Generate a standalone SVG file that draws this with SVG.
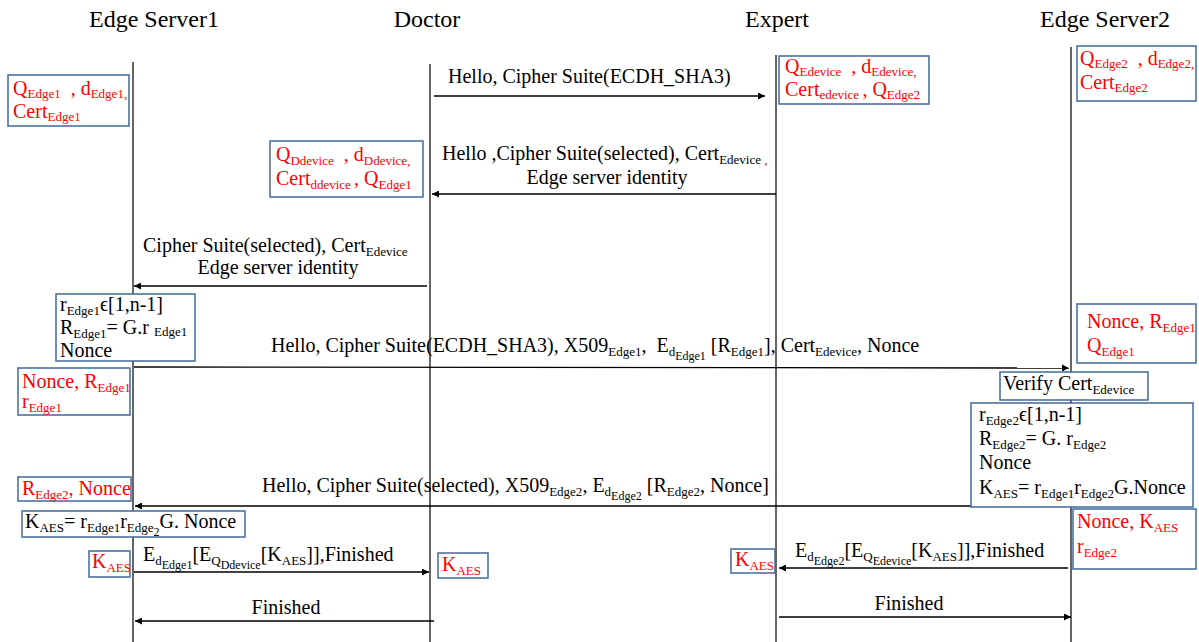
<svg xmlns="http://www.w3.org/2000/svg" width="1199" height="642" viewBox="0 0 1199 642">
  <style>
    text { font-family: "Liberation Serif", "Times New Roman", serif; font-size: 20px; fill: #000; white-space: pre; }
    .hdr { font-size: 24px; text-anchor: middle; }
    .red { fill: #ff0000; }
    .s { font-size: 13px; }
    .ss { font-size: 12px; }
    .life { stroke: #333; stroke-width: 1.5; fill: none; }
    .msg { stroke: #000; stroke-width: 1.4; fill: none; marker-end: url(#ah); }
    .box { fill: #fff; stroke: #41689c; stroke-width: 1.5; }
    .mid { text-anchor: middle; }
  </style>
  <defs>
    <marker id="ah" viewBox="0 0 10 10" refX="10" refY="5" markerWidth="8" markerHeight="7" markerUnits="userSpaceOnUse" orient="auto">
      <path d="M0,0 L10,5 L0,10 z" fill="#000"/>
    </marker>
  </defs>
  <rect width="1199" height="642" fill="#fff"/>

  <!-- participants and lifelines -->
  <g id="edge-server1">
    <text class="hdr" x="154" y="27">Edge Server1</text>
    <line class="life" x1="133" y1="62" x2="133" y2="642"/>
  </g>
  <g id="doctor">
    <text class="hdr" x="427" y="27">Doctor</text>
    <line class="life" x1="430" y1="64" x2="430" y2="642"/>
  </g>
  <g id="expert">
    <text class="hdr" x="777" y="27">Expert</text>
    <line class="life" x1="776" y1="55" x2="776" y2="642"/>
  </g>
  <g id="edge-server2">
    <text class="hdr" x="1105" y="27">Edge Server2</text>
    <line class="life" x1="1071" y1="47" x2="1071" y2="642"/>
  </g>

  <!-- messages -->
  <g id="connectors">
    <line class="msg" x1="434" y1="96" x2="765" y2="96"/>
    <line class="msg" x1="776" y1="194" x2="432" y2="194"/>
    <line class="msg" x1="427" y1="286" x2="134" y2="286"/>
    <line class="msg" x1="134" y1="367" x2="1069" y2="368"/>
    <line class="msg" x1="1071" y1="506" x2="135" y2="506"/>
    <line class="msg" x1="134" y1="572" x2="429" y2="572"/>
    <line class="msg" x1="1068" y1="568" x2="779" y2="568"/>
    <line class="msg" x1="434" y1="621" x2="135" y2="621"/>
    <line class="msg" x1="779" y1="617" x2="1071" y2="617"/>
  </g>

  <!-- message labels -->
  <g id="labels">
    <text x="448" y="83">Hello, Cipher Suite(ECDH_SHA3)</text>
    <text x="442" y="160">Hello ,Cipher Suite(selected), Cert<tspan class="s" dy="4">Edevice </tspan><tspan class="s red">,</tspan></text>
    <text class="mid" x="607" y="184">Edge server identity</text>
    <text x="143" y="252">Cipher Suite(selected), Cert<tspan class="s" dy="4">Edevice</tspan></text>
    <text class="mid" x="278" y="274">Edge server identity</text>
    <text x="271" y="352">Hello, Cipher Suite(ECDH_SHA3), X509<tspan class="s" dy="4">Edge1</tspan><tspan dy="-4">,  E</tspan><tspan class="s" dy="4">d</tspan><tspan class="ss" dy="4">Edge1</tspan><tspan dy="-8"> [R</tspan><tspan class="s" dy="4">Edge1</tspan><tspan dy="-4">], Cert</tspan><tspan class="s" dy="4">Edevice</tspan><tspan dy="-4">, Nonce</tspan></text>
    <text x="262" y="492">Hello, Cipher Suite(selected), X509<tspan class="s" dy="4">Edge2</tspan><tspan dy="-4">, E</tspan><tspan class="s" dy="4">d</tspan><tspan class="ss" dy="4">Edge2</tspan><tspan dy="-8"> [R</tspan><tspan class="s" dy="4">Edge2</tspan><tspan dy="-4">, Nonce]</tspan></text>
    <text x="143" y="561">E<tspan class="s" dy="4">d</tspan><tspan class="ss" dy="4">Edge1</tspan><tspan dy="-8">[E</tspan><tspan class="s" dy="4">Q</tspan><tspan class="ss" dy="4">Ddevice</tspan><tspan dy="-8">[K</tspan><tspan class="s" dy="4">AES</tspan><tspan dy="-4">]],Finished</tspan></text>
    <text x="795" y="557">E<tspan class="s" dy="4">d</tspan><tspan class="ss" dy="4">Edge2</tspan><tspan dy="-8">[E</tspan><tspan class="s" dy="4">Q</tspan><tspan class="ss" dy="4">Edevice</tspan><tspan dy="-8">[K</tspan><tspan class="s" dy="4">AES</tspan><tspan dy="-4">]],Finished</tspan></text>
    <text class="mid" x="286" y="614">Finished</text>
    <text class="mid" x="909" y="610">Finished</text>
  </g>

  <!-- key material boxes -->
  <g id="keys-edge1">
    <rect class="box" x="8" y="75" width="121" height="51"/>
    <text class="red" x="13" y="95">Q<tspan class="s" dy="3">Edge1</tspan><tspan dy="-3">  , d</tspan><tspan class="s" dy="3">Edge1,</tspan></text>
    <text class="red" x="13" y="118">Cert<tspan class="s" dy="3">Edge1</tspan></text>
  </g>
  <g id="keys-expert">
    <rect class="box" x="779" y="56" width="150" height="48"/>
    <text class="red" x="785" y="73">Q<tspan class="s" dy="3">Edevice</tspan><tspan dy="-3">  , d</tspan><tspan class="s" dy="3">Edevice,</tspan></text>
    <text class="red" x="785" y="96">Cert<tspan class="s" dy="3">edevice </tspan><tspan dy="-3">, Q</tspan><tspan class="s" dy="3">Edge2</tspan></text>
  </g>
  <g id="keys-edge2">
    <rect class="box" x="1077" y="46" width="119" height="55"/>
    <text class="red" x="1080" y="65">Q<tspan class="s" dy="3">Edge2</tspan><tspan dy="-3">  , d</tspan><tspan class="s" dy="3">Edge2,</tspan></text>
    <text class="red" x="1080" y="89">Cert<tspan class="s" dy="3">Edge2</tspan></text>
  </g>
  <g id="keys-doctor">
    <rect class="box" x="270" y="141" width="153" height="56"/>
    <text class="red" x="276" y="161">Q<tspan class="s" dy="4">Ddevice</tspan><tspan dy="-4">  , d</tspan><tspan class="s" dy="4">Ddevice,</tspan></text>
    <text class="red" x="276" y="185">Cert<tspan class="s" dy="4">ddevice </tspan><tspan dy="-4">, Q</tspan><tspan class="s" dy="4">Edge1</tspan></text>
  </g>

  <!-- Edge Server1 computation -->
  <g id="edge1-ephemeral">
    <rect class="box" x="56" y="294" width="139" height="67"/>
    <text x="60" y="311">r<tspan class="s" dy="4">Edge1</tspan><tspan dy="-4">ϵ[1,n-1]</tspan></text>
    <text x="60" y="334">R<tspan class="s" dy="4">Edge1</tspan><tspan dy="-4">= G.r </tspan><tspan class="s" dy="2">Edge1</tspan></text>
    <text x="60" y="357">Nonce</text>
  </g>
  <g id="edge1-received">
    <rect class="box" x="18" y="368" width="112" height="47"/>
    <text class="red" x="22" y="388">Nonce, R<tspan class="s" dy="4">Edge1</tspan></text>
    <text class="red" x="22" y="408">r<tspan class="s" dy="4">Edge1</tspan></text>
  </g>
  <g id="edge2-received">
    <rect class="box" x="1077" y="304" width="119" height="59"/>
    <text class="red" x="1087" y="328">Nonce, R<tspan class="s" dy="4">Edge1</tspan></text>
    <text class="red" x="1087" y="352">Q<tspan class="s" dy="4">Edge1</tspan></text>
  </g>
  <g id="edge2-verify">
    <rect class="box" x="1000" y="372" width="148" height="28"/>
    <text x="1003" y="390">Verify Cert<tspan class="s" dy="4">Edevice</tspan></text>
  </g>
  <g id="edge2-ephemeral">
    <rect class="box" x="971" y="403" width="222" height="104"/>
    <text x="979" y="421">r<tspan class="s" dy="4">Edge2</tspan><tspan dy="-4">ϵ[1,n-1]</tspan></text>
    <text x="979" y="445">R<tspan class="s" dy="4">Edge2</tspan><tspan dy="-4">= G. r</tspan><tspan class="s" dy="4">Edge2</tspan></text>
    <text x="979" y="469">Nonce</text>
    <text x="979" y="494">K<tspan class="s" dy="4">AES</tspan><tspan dy="-4">= r</tspan><tspan class="s" dy="4">Edge1</tspan><tspan dy="-4">r</tspan><tspan class="s" dy="4">Edge2</tspan><tspan dy="-4">G.Nonce</tspan></text>
  </g>
  <g id="edge1-response">
    <rect class="box" x="18" y="477" width="113" height="24"/>
    <text class="red" x="22" y="495">R<tspan class="s" dy="4">Edge2</tspan><tspan dy="-4">, Nonce</tspan></text>
  </g>
  <g id="edge1-session-key">
    <rect class="box" x="22" y="511" width="223" height="26"/>
    <text x="25" y="528">K<tspan class="s" dy="4">AES</tspan><tspan dy="-4">= r</tspan><tspan class="s" dy="4">Edge1</tspan><tspan dy="-4">r</tspan><tspan class="s" dy="4">Edge</tspan><tspan class="ss" dy="4">2</tspan><tspan dy="-8">G. Nonce</tspan></text>
  </g>
  <g id="edge2-session-key">
    <rect class="box" x="1073" y="509" width="123" height="60"/>
    <text class="red" x="1077" y="528">Nonce, K<tspan class="s" dy="4">AES</tspan></text>
    <text class="red" x="1077" y="553">r<tspan class="s" dy="4">Edge2</tspan></text>
  </g>
  <g id="kaes-edge1">
    <rect class="box" x="89" y="551" width="41" height="26"/>
    <text class="red" x="92" y="568">K<tspan class="s" dy="4">AES</tspan></text>
  </g>
  <g id="kaes-doctor">
    <rect class="box" x="438" y="553" width="50" height="25"/>
    <text class="red" x="442" y="571">K<tspan class="s" dy="4">AES</tspan></text>
  </g>
  <g id="kaes-expert">
    <rect class="box" x="731" y="549" width="44" height="24"/>
    <text class="red" x="735" y="566">K<tspan class="s" dy="4">AES</tspan></text>
  </g>
</svg>
